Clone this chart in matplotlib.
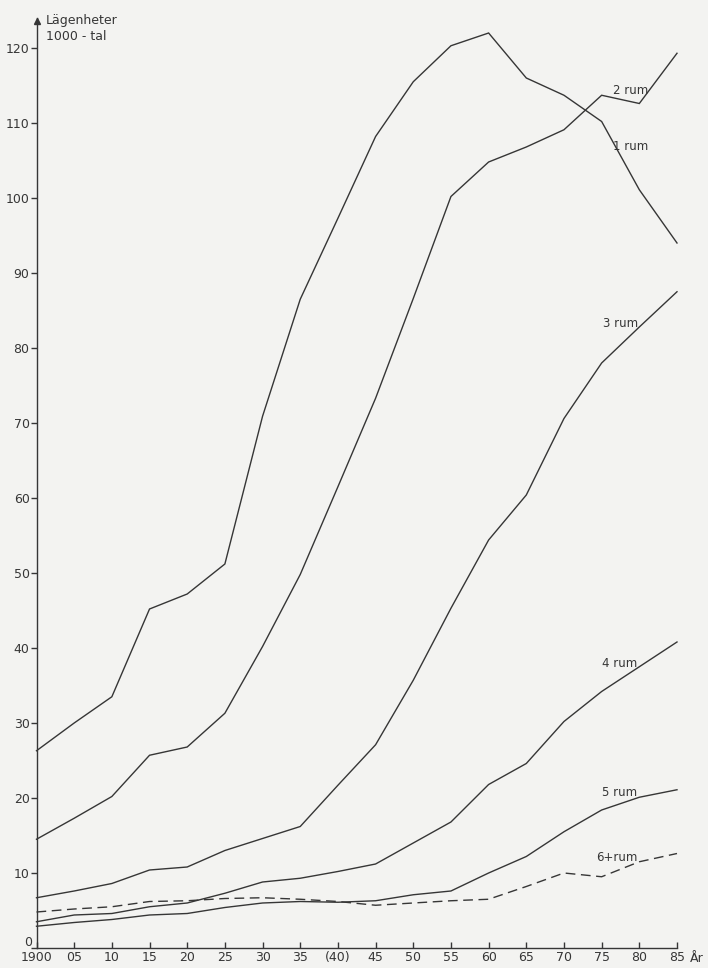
import matplotlib
matplotlib.use("Agg")
import matplotlib.pyplot as plt

years = [1900, 1905, 1910, 1915, 1920, 1925, 1930, 1935, 1940,
         1945, 1950, 1955, 1960, 1965, 1970, 1975, 1980, 1985]
rum1 = [26.3, 30.0, 33.5, 45.2, 47.2, 51.2, 70.9, 86.5, 97.3,
        108.2, 115.5, 120.3, 122.0, 116.0, 113.7, 110.2, 101.1, 94.0]
rum2 = [14.5, 17.3, 20.2, 25.7, 26.8, 31.3, 40.2, 49.8, 61.5,
        73.3, 86.6, 100.2, 104.8, 106.8, 109.1, 113.7, 112.6, 119.3]
rum3 = [6.7, 7.6, 8.6, 10.4, 10.8, 13.0, 14.6, 16.2, 21.7,
        27.1, 35.7, 45.3, 54.4, 60.4, 70.6, 78.0, 82.8, 87.5]
rum4 = [3.5, 4.4, 4.6, 5.5, 6.0, 7.3, 8.8, 9.3, 10.2,
        11.2, 14.0, 16.8, 21.8, 24.6, 30.2, 34.2, 37.5, 40.8]
rum5 = [2.9, 3.4, 3.8, 4.4, 4.6, 5.4, 6.0, 6.2, 6.1,
        6.3, 7.1, 7.6, 10.0, 12.2, 15.5, 18.4, 20.1, 21.1]
rum6 = [4.8, 5.2, 5.5, 6.2, 6.3, 6.6, 6.7, 6.5, 6.2,
        5.7, 6.0, 6.3, 6.5, 8.2, 10.0, 9.5, 11.5, 12.6]

xtick_vals = years
xtick_labels = ["1900", "05", "10", "15", "20", "25", "30", "35", "(40)",
                "45", "50", "55", "60", "65", "70", "75", "80", "85"]
ytick_vals = [0, 10, 20, 30, 40, 50, 60, 70, 80, 90, 100, 110, 120]

series_labels = ["1 rum", "2 rum", "3 rum", "4 rum", "5 rum", "6+rum"]
label_pos = [(1981.2, 106.8), (1981.2, 114.4), (1979.9, 83.3),
             (1979.7, 37.9), (1979.7, 20.7), (1979.7, 12.1)]

bg = "#f3f3f1"
ink = "#363636"

plt.rcParams["font.family"] = ["DejaVu Sans"]
fig = plt.figure(figsize=(7.08, 9.68), dpi=100, facecolor=bg)
ax = fig.add_axes([36.5 / 708, 20 / 968, 640.5 / 708, 930 / 968])
ax.set_facecolor(bg)

lw = 1.0
for vals in (rum1, rum2, rum3, rum4, rum5):
    ax.plot(years, vals, color=ink, lw=lw, clip_on=False, solid_joinstyle="miter")
ax.plot(years, rum6, color=ink, lw=lw, dashes=(7, 4), clip_on=False)

for lab, (x, y) in zip(series_labels, label_pos):
    ax.text(x, y, lab, ha="right", va="center", fontsize=8.5, color=ink)

ax.set_xlim(1900, 1985)
ax.set_ylim(0, 124)
ax.spines["top"].set_visible(False)
ax.spines["right"].set_visible(False)
for s in ("left", "bottom"):
    ax.spines[s].set_color(ink)
    ax.spines[s].set_linewidth(1.0)

ax.set_xticks(xtick_vals)
ax.set_xticklabels(xtick_labels)
ax.set_yticks(ytick_vals)
ax.set_yticklabels(["" if v == 0 else str(v) for v in ytick_vals])
ax.tick_params(axis="x", direction="in", length=4, width=1.0, pad=2,
               labelsize=9, colors=ink)
ax.tick_params(axis="y", direction="out", length=4, width=1.0, pad=1,
               labelsize=9, colors=ink)

# zero label sits slightly above the baseline, as in the original
ax.annotate(str(ytick_vals[0]), xy=(1900, 0), xytext=(-3.5, 3.8),
            textcoords="offset points", ha="right", va="center",
            fontsize=9, color=ink, annotation_clip=False)

# arrow head on y axis
ax.plot([1900], [123.6], marker="^", markersize=5, color=ink, clip_on=False)
ax.text(1901.2, 123.7, "Lägenheter", ha="left", va="center", fontsize=9, color=ink)
ax.text(1901.2, 121.6, "1000 - tal", ha="left", va="center", fontsize=9, color=ink)
ax.text(1986.7, -0.6, "År", ha="left", va="top", fontsize=9, color=ink, clip_on=False)

fig.savefig("out.png", dpi=100, facecolor=bg)
